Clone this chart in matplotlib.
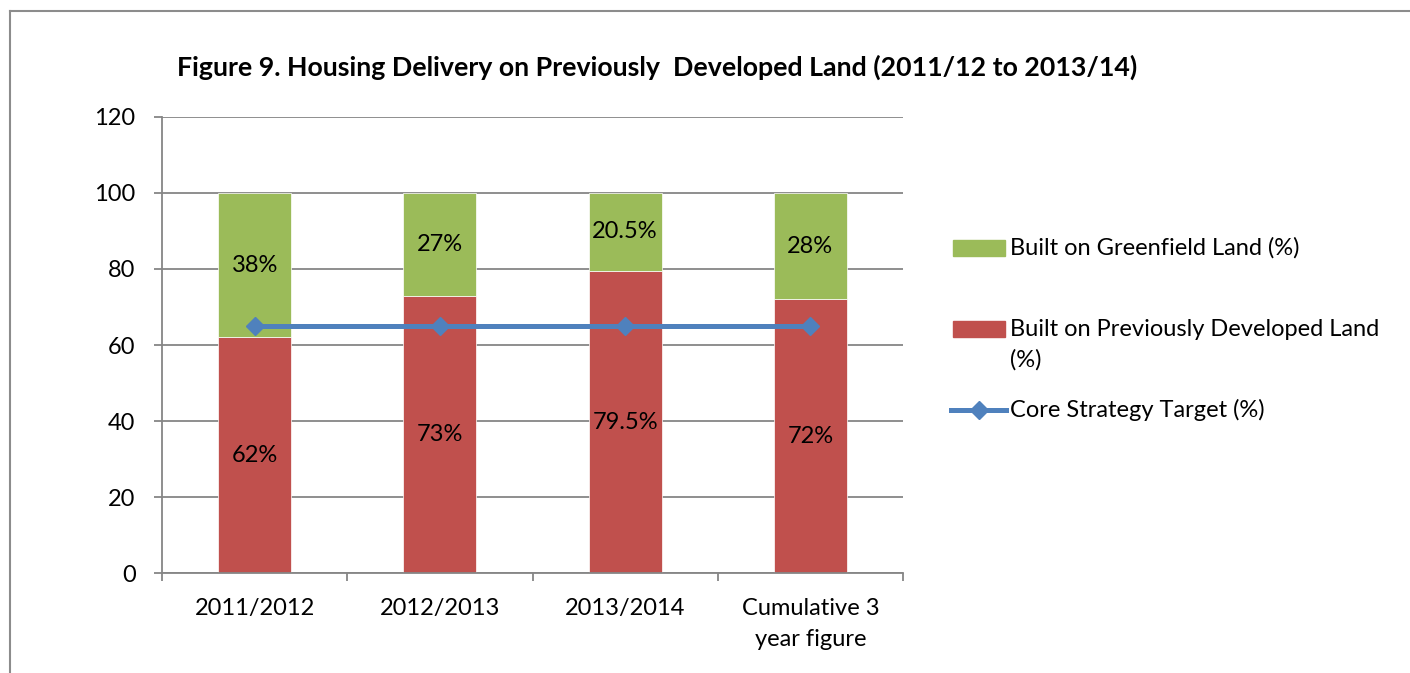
import matplotlib
matplotlib.use('Agg')
import matplotlib.pyplot as plt
import matplotlib.patches as patches
from matplotlib.lines import Line2D

plt.rcParams['font.family'] = ['Lato', 'DejaVu Sans']

categories = ['2011/2012', '2012/2013', '2013/2014', 'Cumulative 3\nyear figure']
pdl = [62, 73, 79.5, 72]
greenfield = [38, 27, 20.5, 28]
pdl_labels = ['62%', '73%', '79.5%', '72%']
green_labels = ['38%', '27%', '20.5%', '28%']
target = [65, 65, 65, 65]

RED = '#C0504D'
GREEN = '#9BBB59'
BLUE = '#4F81BD'
GRID = '#868686'
FS = 17

W, H = 1410, 673
fig = plt.figure(figsize=(W / 100, H / 100), dpi=100)
ax = fig.add_axes([162 / W, 1 - 573.3 / H, (903 - 162) / W, (573.3 - 116.7) / H])

x = list(range(len(categories)))
ax.bar(x, pdl, width=0.395, color=RED, edgecolor='white', linewidth=0.5, zorder=2)
ax.bar(x, greenfield, bottom=pdl, width=0.395, color=GREEN, edgecolor='white', linewidth=0.5, zorder=2)
ax.plot(x, target, color=BLUE, lw=3.6, marker='D', ms=9.5, zorder=3)

for i in x:
    ax.text(i, pdl[i] / 2, pdl_labels[i], ha='center', va='center', fontsize=FS, zorder=4)
    ax.text(i, pdl[i] + greenfield[i] / 2, green_labels[i], ha='center', va='center', fontsize=FS, zorder=4)

ax.set_xlim(-0.5, 3.5)
ax.set_ylim(0, 120)
ax.set_yticks(range(0, 121, 20))
ax.yaxis.grid(True, color=GRID, lw=1.3, zorder=0)
ax.set_axisbelow(True)
for s in ['top', 'right']:
    ax.spines[s].set_visible(False)
for s in ['left', 'bottom']:
    ax.spines[s].set_color(GRID)
    ax.spines[s].set_linewidth(1.3)
ax.tick_params(axis='y', length=6, width=1.3, color=GRID, labelsize=FS, pad=13)
ax.set_xticks([i - 0.5 for i in range(len(categories) + 1)])
ax.set_xticklabels([])
ax.tick_params(axis='x', which='major', length=6, width=1.3, color=GRID)
ax.set_xticks(x, minor=True)
ax.set_xticklabels(categories, minor=True, fontsize=FS, linespacing=1.55)
ax.tick_params(axis='x', which='minor', length=0, pad=18)

fig.text(657 / W, 1 - 67 / H, 'Figure 9. Housing Delivery on Previously  Developed Land (2011/12 to 2013/14)',
         ha='center', va='center', fontsize=19.3, fontweight='bold')

# legend drawn by hand to keep the wrapped entry aligned like the original
def fy(py):
    return 1 - py / H

fig.patches.append(patches.Rectangle((953 / W, fy(256)), 52 / W, 16 / H, transform=fig.transFigure,
                                     color=GREEN, figure=fig))
fig.text(1010 / W, fy(248), 'Built on Greenfield Land (%)', va='center', fontsize=FS)
fig.patches.append(patches.Rectangle((953 / W, fy(337)), 52 / W, 16 / H, transform=fig.transFigure,
                                     color=RED, figure=fig))
fig.text(1010 / W, fy(329), 'Built on Previously Developed Land', va='center', fontsize=FS)
fig.text(1010 / W, fy(360), '(%)', va='center', fontsize=FS)
fig.lines.append(Line2D([951 / W, 1006 / W], [fy(410), fy(410)], transform=fig.transFigure,
                        color=BLUE, lw=3.6, figure=fig))
fig.lines.append(Line2D([978.5 / W], [fy(410)], transform=fig.transFigure, color=BLUE,
                        marker='D', ms=9.5, lw=0, figure=fig))
fig.text(1010 / W, fy(410), 'Core Strategy Target (%)', va='center', fontsize=FS)

# outer frame (cut at right and bottom)
fig.lines.append(Line2D([10 / W, 1], [fy(11), fy(11)], transform=fig.transFigure, color='#8C8C8C', lw=1.5, figure=fig))
fig.lines.append(Line2D([10 / W, 10 / W], [fy(11), 0], transform=fig.transFigure, color='#8C8C8C', lw=1.5, figure=fig))

fig.savefig('out.png', dpi=100)
